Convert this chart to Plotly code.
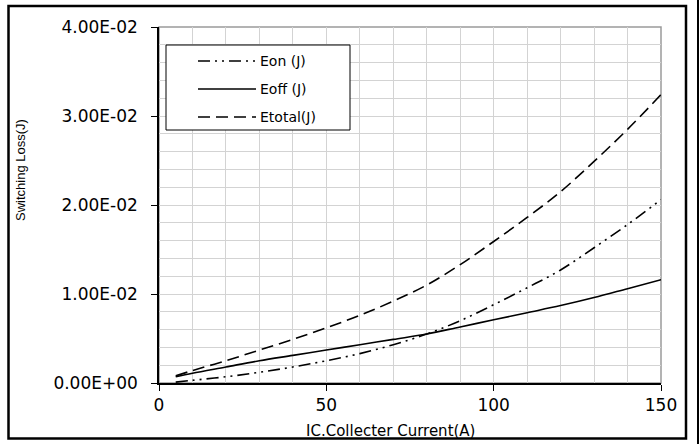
import plotly.graph_objects as go

# ---- data ----
current_a = [5, 10, 20, 30, 40, 50, 60, 70, 80, 90, 100, 110, 120, 130, 140, 150]
eon_j = [0.0001, 0.0003, 0.0007, 0.0012, 0.0018, 0.0025, 0.0033, 0.0043, 0.0055,
         0.0070, 0.0088, 0.0107, 0.0127, 0.0152, 0.0178, 0.0206]
eoff_j = [0.0007, 0.0011, 0.0018, 0.0025, 0.0031, 0.0037, 0.0043, 0.0049, 0.0055,
          0.0063, 0.0071, 0.0079, 0.0087, 0.0096, 0.0106, 0.0116]
etotal_j = [0.0008, 0.0014, 0.0025, 0.0037, 0.0049, 0.0062, 0.0076, 0.0092, 0.0110,
            0.0133, 0.0159, 0.0186, 0.0215, 0.0249, 0.0285, 0.0324]

series_names = ["Eon (J)", "Eoff (J)", "Etotal(J)"]
series_values = [eon_j, eoff_j, etotal_j]
series_dash = ["12px,5px,2px,5px,2px,5px", "solid", "12px,6px"]

y_tick_vals = [0, 0.01, 0.02, 0.03, 0.04]
y_tick_text = ["0.00E+00", "1.00E-02", "2.00E-02", "3.00E-02", "4.00E-02"]
x_tick_vals = [0, 50, 100, 150]

x_title = "IC.Collecter Current(A)"
y_title = "Switching Loss(J)"

W, H = 699, 444
L, R, T, B = 159, 38, 27, 61
PW, PH = W - L - R, H - T - B


def px_x(p):
    return (p - L) / PW


def px_y(p):
    return (H - B - p) / PH


fig = go.Figure()
for name, vals, dash in zip(series_names, series_values, series_dash):
    fig.add_trace(go.Scatter(
        x=current_a, y=vals, name=name, mode="lines",
        line=dict(color="black", width=1.6, dash=dash, shape="spline", smoothing=1.0),
        showlegend=False,
    ))

grid = "#d3d3d3"
tickfont = dict(family="DejaVu Sans", size=17, color="black")

fig.update_xaxes(
    range=[0, 150], tickvals=x_tick_vals, ticks="outside", ticklen=6, tickcolor="black",
    showline=True, linecolor="black", linewidth=1.5, showgrid=True, gridcolor=grid,
    gridwidth=1, zeroline=False, tickfont=tickfont,
    minor=dict(dtick=10, showgrid=True, gridcolor=grid, gridwidth=1, ticks=""),
)
fig.update_yaxes(
    range=[0, 0.04], tickvals=y_tick_vals, ticktext=y_tick_text, ticks="outside",
    ticklen=6, tickcolor="black", showline=True, linecolor="black", linewidth=1.5,
    showgrid=True, gridcolor=grid, gridwidth=1, zeroline=False, tickfont=tickfont,
    ticklabelstandoff=10,
    minor=dict(dtick=0.002, showgrid=True, gridcolor=grid, gridwidth=1, ticks=""),
)

shapes = [
    # plot area frame (gray top/right)
    dict(type="rect", xref="paper", yref="paper", x0=0, x1=1, y0=0, y1=1,
         line=dict(color="#9a9a9a", width=1.5), layer="below"),
    # outer chart frame
    dict(type="rect", xref="paper", yref="paper",
         x0=px_x(8.5), x1=px_x(686), y0=px_y(438.5), y1=px_y(6),
         line=dict(color="black", width=2.5)),
    # image edge line on right
    dict(type="line", xref="paper", yref="paper",
         x0=px_x(698), x1=px_x(698), y0=px_y(444), y1=px_y(0),
         line=dict(color="black", width=2)),
    # legend box
    dict(type="rect", xref="paper", yref="paper",
         x0=px_x(166), x1=px_x(350), y0=px_y(130), y1=px_y(45),
         line=dict(color="black", width=1), fillcolor="white", layer="above"),
]
annotations = []
legend_rows = [61, 89, 117]
for name, dash, row in zip(series_names, series_dash, legend_rows):
    shapes.append(dict(type="line", xref="paper", yref="paper",
                       x0=px_x(198), x1=px_x(256), y0=px_y(row), y1=px_y(row),
                       line=dict(color="black", width=1.6, dash=dash)))
    annotations.append(dict(text=name, xref="paper", yref="paper",
                            x=px_x(258), y=px_y(row), xanchor="left", yanchor="middle",
                            showarrow=False,
                            font=dict(family="DejaVu Sans", size=14, color="black")))

annotations.append(dict(text=x_title, xref="paper", yref="paper",
                        x=px_x(390), y=px_y(431), xanchor="center", yanchor="middle",
                        showarrow=False,
                        font=dict(family="DejaVu Sans", size=15, color="black")))
annotations.append(dict(text=y_title, xref="paper", yref="paper",
                        x=px_x(20), y=px_y(170), xanchor="center", yanchor="middle",
                        textangle=-90, showarrow=False,
                        font=dict(family="Liberation Sans", size=13, color="black")))

fig.update_layout(
    width=W, height=H, margin=dict(l=L, r=R, t=T, b=B),
    paper_bgcolor="white", plot_bgcolor="white",
    shapes=shapes, annotations=annotations, showlegend=False,
)

fig.write_html(
    "out.html",
    config={"displayModeBar": False},
    post_script="document.body.style.margin='0';document.body.style.overflow='hidden';",
)
